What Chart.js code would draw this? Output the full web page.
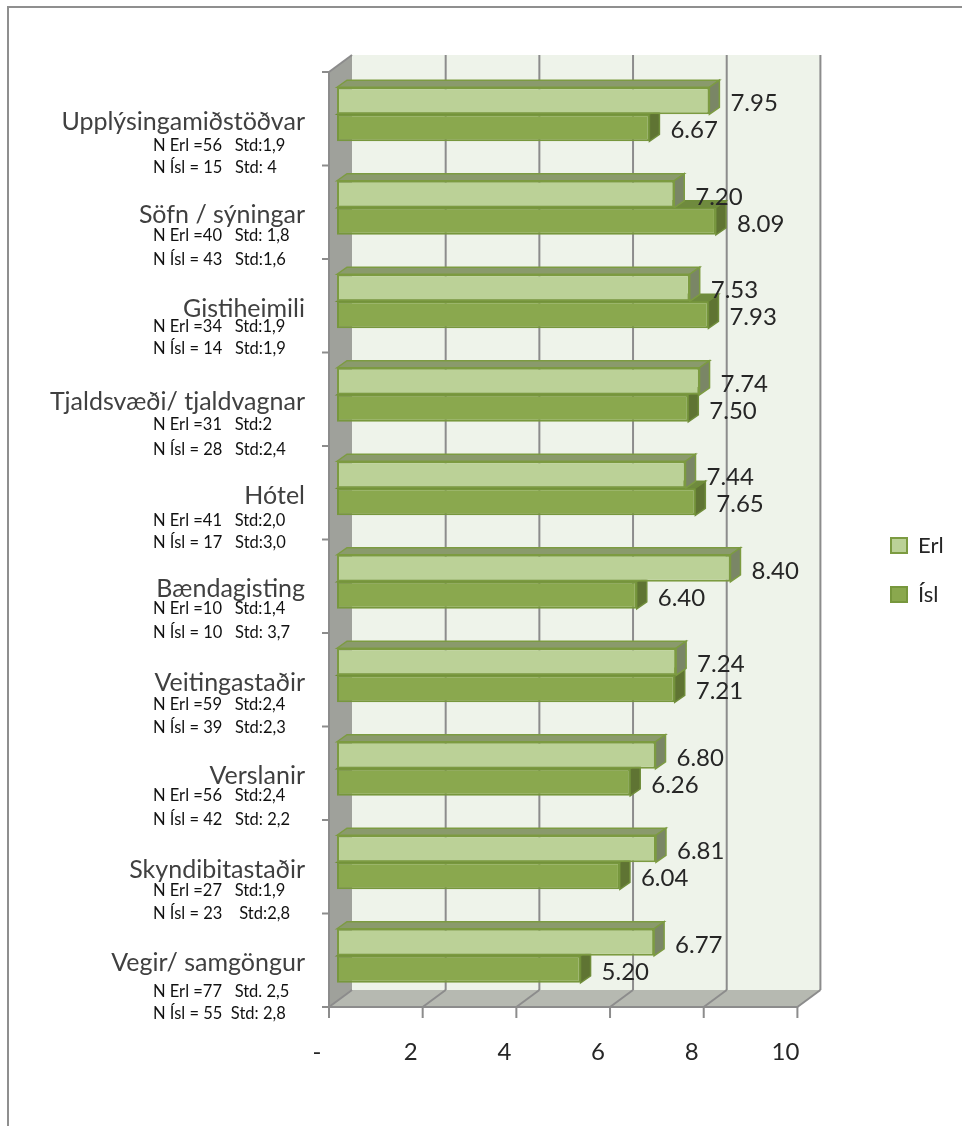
<!DOCTYPE html>
<html lang="is">
<head>
  <meta charset="UTF-8">
  <title>Erl / Ísl</title>
  <script src="https://cdn.jsdelivr.net/npm/chart.js"></script>
  <style>
    html, body {
      margin: 0;
      background: #fff;
      overflow: hidden;
    }

    .frame {
      position: absolute;
      left: 7px;
      top: 6px;
      right: 0;
      bottom: 0;
      border-top: 2px solid #8f8f8f;
      border-left: 2px solid #8f8f8f;
    }

    .chart-box {
      position: absolute;
      left: 0;
      top: 0;
      width: 962px;
      height: 1126px;
    }
  </style>
</head>
<body>

<div class="frame"></div>
<div class="chart-box">
  <canvas id="ratingChart"></canvas>
</div>

<script>
  const categories = ["Upplýsingamiðstöðvar", "Söfn / sýningar", "Gistiheimili", "Tjaldsvæði/ tjaldvagnar", "Hótel", "Bændagisting", "Veitingastaðir", "Verslanir", "Skyndibitastaðir", "Vegir/ samgöngur"];
  const erlValues = [7.95, 7.20, 7.53, 7.74, 7.44, 8.40, 7.24, 6.80, 6.81, 6.77];
  const islValues = [6.67, 8.09, 7.93, 7.50, 7.65, 6.40, 7.21, 6.26, 6.04, 5.20];
  const erlNotes = ["N Erl =56   Std:1,9", "N Erl =40   Std: 1,8", "N Erl =34   Std:1,9", "N Erl =31   Std:2", "N Erl =41   Std:2,0", "N Erl =10   Std:1,4", "N Erl =59   Std:2,4", "N Erl =56   Std:2,4", "N Erl =27   Std:1,9", "N Erl =77   Std. 2,5"];
  const islNotes = ["N Ísl = 15   Std: 4", "N Ísl = 43   Std:1,6", "N Ísl = 14   Std:1,9", "N Ísl = 28   Std:2,4", "N Ísl = 17   Std:3,0", "N Ísl = 10   Std: 3,7", "N Ísl = 39   Std:2,3", "N Ísl = 42   Std: 2,2", "N Ísl = 23    Std:2,8", "N Ísl = 55  Std: 2,8"];
  const xTickLabels = ["-", "2", "4", "6", "8", "10"];

  // hand placed notes, distance below the middle of each category
  const erlNoteNudge = [31.5, 28, 25.5, 30, 32.5, 27, 29.5, 27, 28.5, 36];
  const islNoteNudge = [53.5, 52, 47.5, 55, 54.5, 51, 52.5, 51, 51.5, 58];

  const FONT = "Lato, sans-serif";

  // the fake 3D box: front and back planes sit around the plane the bars use
  const front = { dx: -8, dy: 4.5 };
  const back = { dx: 15, dy: -12.5 };
  const depth = { dx: 10, dy: -7 };

  function poly(ctx, points, fill, stroke) {
    ctx.beginPath();
    points.forEach((p, i) => i ? ctx.lineTo(p[0], p[1]) : ctx.moveTo(p[0], p[1]));
    ctx.closePath();
    ctx.fillStyle = fill;
    ctx.fill();
    if (stroke) {
      ctx.strokeStyle = stroke;
      ctx.lineWidth = 1.5;
      ctx.stroke();
    }
  }

  function line(ctx, x1, y1, x2, y2) {
    ctx.beginPath();
    ctx.moveTo(x1, y1);
    ctx.lineTo(x2, y2);
    ctx.stroke();
  }

  const boxPlugin = {
    id: "box3d",
    afterLayout(chart) {
      // legend sits further right than the layout would put it
      chart.legend.left = 864;
      chart.legend.right = 962;
      chart.legend.top = 507.5;
    },
    beforeDatasetsDraw(chart) {
      const { ctx, chartArea: area, scales: { x, y } } = chart;
      const x0 = x.getPixelForValue(0), x10 = x.getPixelForValue(10);
      const fTop = area.top + front.dy, fBot = area.bottom + front.dy;
      const bTop = area.top + back.dy, bBot = area.bottom + back.dy;

      ctx.save();
      poly(ctx, [[x0 + back.dx, bTop], [x10 + back.dx, bTop], [x10 + back.dx, bBot], [x0 + back.dx, bBot]], "#eef3ea");
      poly(ctx, [[x0 + front.dx, fTop], [x0 + back.dx, bTop], [x0 + back.dx, bBot], [x0 + front.dx, fBot]], "#9fa19b");
      poly(ctx, [[x0 + front.dx, fBot], [x0 + back.dx, bBot], [x10 + back.dx, bBot], [x10 + front.dx, fBot]], "#b6b9b1");

      ctx.strokeStyle = "#8c8c8c";
      ctx.lineWidth = 2;
      x.ticks.forEach(t => {
        const px = x.getPixelForValue(t.value);
        if (t.value > 0) line(ctx, px + back.dx, bTop, px + back.dx, bBot);
        line(ctx, px + back.dx, bBot, px + front.dx, fBot);
        line(ctx, px + front.dx, fBot, px + front.dx, fBot + 11);
      });
      line(ctx, x0 + front.dx, fTop, x0 + front.dx, fBot);
      line(ctx, x0 + front.dx, fBot, x10 + front.dx, fBot);
      line(ctx, x0 + front.dx, fTop, x0 + back.dx, bTop);

      const step = (fBot - fTop) / categories.length;
      for (let i = 0; i <= categories.length; i++) {
        line(ctx, x0 + front.dx - 7, fTop + i * step, x0 + front.dx, fTop + i * step);
      }

      // top and side faces of the bars, dark series first
      const faces = [
        { set: 1, top: "#6f8a3e", side: "#5f7433", edge: "#6f8c3a" },
        { set: 0, top: "#8a9a6c", side: "#7a8666", edge: "#7c9b41" }
      ];
      faces.forEach(f => {
        chart.getDatasetMeta(f.set).data.forEach(bar => {
          const t = bar.y - bar.height / 2, b = bar.y + bar.height / 2;
          poly(ctx, [[bar.base, t], [bar.base + depth.dx, t + depth.dy], [bar.x + depth.dx, t + depth.dy], [bar.x, t]], f.top, f.edge);
          poly(ctx, [[bar.x, t], [bar.x + depth.dx, t + depth.dy], [bar.x + depth.dx, b + depth.dy], [bar.x, b]], f.side, f.edge);
        });
      });
      ctx.restore();
    },
    afterDatasetsDraw(chart) {
      const { ctx, scales: { y } } = chart;
      ctx.save();

      // value labels
      ctx.font = "24px " + FONT;
      ctx.fillStyle = "#262626";
      ctx.textAlign = "left";
      ctx.textBaseline = "middle";
      [0, 1].forEach(set => {
        const values = chart.data.datasets[set].data;
        chart.getDatasetMeta(set).data.forEach((bar, i) => {
          ctx.fillText(values[i].toFixed(2), bar.x + 21, bar.y + 3);
        });
      });

      // N / Std notes under the category names
      ctx.font = "16.5px " + FONT;
      ctx.fillStyle = "#111";
      categories.forEach((c, i) => {
        const mid = y.getPixelForValue(i);
        ctx.fillText(erlNotes[i], 153, mid + erlNoteNudge[i]);
        ctx.fillText(islNotes[i], 153, mid + islNoteNudge[i]);
      });
      ctx.restore();
    }
  };

  new Chart(document.getElementById("ratingChart"), {
    type: "bar",
    data: {
      labels: categories,
      datasets: [
        {
          label: "Erl",
          data: erlValues,
          backgroundColor: "#bbd197",
          borderColor: "#7c9b41",
          borderWidth: 2,
          borderSkipped: false,
          categoryPercentage: 0.5775,
          barPercentage: 1,
          clip: false
        },
        {
          label: "Ísl",
          data: islValues,
          backgroundColor: "#8aa84e",
          borderColor: "#77973d",
          borderWidth: 2,
          borderSkipped: false,
          categoryPercentage: 0.5775,
          barPercentage: 1,
          clip: false
        }
      ]
    },
    options: {
      indexAxis: "y",
      responsive: true,
      maintainAspectRatio: false,
      animation: false,
      layout: {
        padding: { top: 67.5, right: 67, bottom: 0, left: 0 }
      },
      scales: {
        x: {
          min: 0,
          max: 10,
          afterFit(scale) { scale.height = 123.5; },
          grid: { display: false, drawTicks: false },
          border: { display: false },
          ticks: {
            stepSize: 2,
            maxRotation: 0,
            padding: 35,
            labelOffset: -20,
            color: "#262626",
            font: { family: FONT, size: 24 },
            callback: (value, i) => xTickLabels[i]
          }
        },
        y: {
          afterFit(scale) { scale.width = 337; },
          grid: { display: false, drawTicks: false },
          border: { display: false },
          ticks: {
            autoSkip: false,
            padding: 32,
            labelOffset: 7.5,
            color: "#404040",
            font: { family: FONT, size: 25 }
          }
        }
      },
      plugins: {
        legend: {
          position: "right",
          align: "start",
          labels: {
            boxWidth: 16,
            boxHeight: 15,
            padding: 27,
            color: "#262626",
            font: { family: FONT, size: 22 }
          }
        },
        tooltip: { enabled: false }
      }
    },
    plugins: [boxPlugin]
  });
</script>
</body>
</html>
